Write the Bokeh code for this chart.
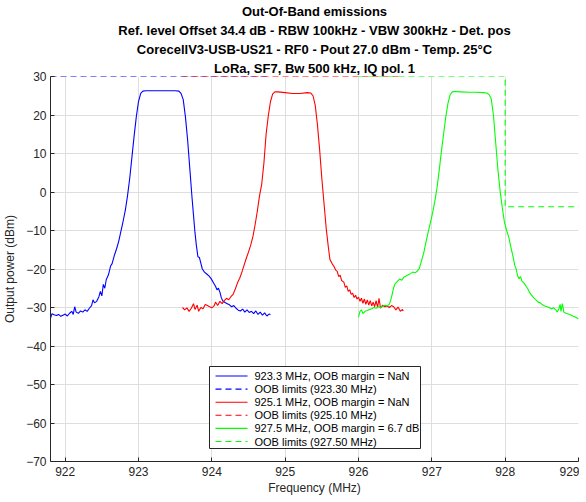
from bokeh.plotting import figure
from bokeh.models import Range1d, FixedTicker, Title, BoxAnnotation, Arrow, Label
from bokeh.embed import file_html
from bokeh.resources import INLINE

# ---------------- data ----------------
blue_f = [921.80, 921.82, 921.85, 921.88, 921.91, 921.94, 921.97, 922.00, 922.03, 922.06,
          922.09, 922.11, 922.13, 922.15, 922.18, 922.21, 922.24, 922.27, 922.30, 922.33,
          922.36, 922.38, 922.40, 922.43, 922.46, 922.48, 922.50, 922.52, 922.54, 922.56,
          922.59, 922.62, 922.64, 922.67, 922.70, 922.73, 922.76, 922.79, 922.82, 922.85,
          922.88, 922.91, 922.94, 922.97, 923.00, 923.03, 923.06, 923.10, 923.20, 923.30,
          923.40, 923.50, 923.55, 923.58, 923.61, 923.64, 923.67, 923.70, 923.73, 923.75,
          923.77, 923.79, 923.81, 923.83, 923.85, 923.87, 923.90, 923.93, 923.96, 923.99,
          924.02, 924.05, 924.07, 924.09, 924.11, 924.13, 924.15, 924.18, 924.21, 924.24,
          924.27, 924.30, 924.33, 924.36, 924.39, 924.42, 924.45, 924.48, 924.51, 924.54,
          924.57, 924.60, 924.63, 924.66, 924.69, 924.72, 924.75, 924.78, 924.80]
blue_p = [-32.8, -31.6, -31.9, -32.1, -31.8, -32.3, -32.0, -31.7, -32.2, -31.5,
          -31.0, -31.8, -29.8, -31.2, -31.5, -30.9, -31.2, -30.6, -31.0, -30.2,
          -29.5, -28.0, -28.8, -28.4, -27.2, -25.8, -27.0, -24.0, -25.0, -22.8,
          -21.5, -19.2, -18.6, -16.5, -14.8, -12.8, -10.2, -7.6, -4.8, -1.0,
          3.5, 9.0, 14.5, 19.5, 23.5, 25.6, 26.2, 26.3, 26.3, 26.3,
          26.3, 26.3, 26.2, 25.6, 24.0, 19.5, 13.5, 6.0, -1.5, -6.0,
          -10.5, -14.0, -16.8, -17.0, -18.5, -20.0, -20.8, -21.3, -21.8, -22.5,
          -23.5, -24.5, -25.4, -25.0, -26.0, -27.5, -28.3, -28.7, -29.0, -29.3,
          -29.8, -29.5, -30.2, -30.7, -30.9, -30.4, -31.2, -30.6, -31.3, -31.0,
          -31.6, -30.9, -31.8, -31.2, -32.0, -31.4, -32.2, -31.7, -31.8]

red_f = [923.60, 923.63, 923.66, 923.69, 923.72, 923.75, 923.77, 923.80, 923.82, 923.85,
         923.88, 923.91, 923.94, 923.97, 924.00, 924.03, 924.05, 924.08, 924.11, 924.14,
         924.17, 924.20, 924.23, 924.26, 924.29, 924.32, 924.35, 924.38, 924.41, 924.44,
         924.47, 924.50, 924.53, 924.56, 924.59, 924.62, 924.65, 924.68, 924.71, 924.74,
         924.77, 924.80, 924.83, 924.86, 924.90, 925.00, 925.10, 925.20, 925.30, 925.35,
         925.38, 925.41, 925.44, 925.47, 925.50, 925.53, 925.56, 925.59, 925.61, 925.64,
         925.67, 925.69, 925.71, 925.73, 925.75, 925.77, 925.80, 925.82, 925.84, 925.86,
         925.88, 925.90, 925.92, 925.94, 925.96, 925.98, 926.00, 926.02, 926.04, 926.06,
         926.08, 926.10, 926.12, 926.14, 926.16, 926.18, 926.20, 926.22, 926.24, 926.26,
         926.28, 926.30, 926.33, 926.36, 926.39, 926.42, 926.45, 926.48, 926.51, 926.54,
         926.57, 926.60, 926.61]
red_p = [-30.0, -30.6, -30.1, -31.0, -30.2, -29.0, -30.5, -29.4, -31.0, -30.0,
         -30.3, -29.2, -29.5, -29.8, -30.1, -29.6, -28.6, -29.5, -28.4, -29.0,
         -28.2, -27.6, -28.0, -27.2, -26.6, -25.2, -23.6, -22.4, -20.8, -19.0,
         -17.2, -15.6, -13.8, -11.6, -8.5, -5.0, -1.0, 2.0, 7.5, 15.0,
         19.8, 23.5, 25.5, 26.0, 26.0, 25.8, 25.6, 25.6, 25.8, 25.7,
         25.0, 22.5, 17.5, 11.0, 3.5, -3.0, -9.5, -14.5, -17.5, -18.6,
         -19.5, -20.3, -20.6, -22.0, -21.6, -23.0, -23.4, -24.8, -24.4, -25.8,
         -25.4, -26.6, -26.3, -27.4, -26.8, -27.8, -27.3, -28.4, -27.6, -28.9,
         -27.8, -29.2, -28.0, -29.4, -28.2, -29.6, -28.6, -29.8, -28.2, -30.0,
         -27.6, -30.2, -29.4, -29.8, -29.6, -30.0, -29.5, -29.8, -30.6, -29.9,
         -31.0, -30.5, -30.9]

green_f = [926.00, 926.02, 926.04, 926.06, 926.09, 926.12, 926.15, 926.18, 926.21, 926.24,
           926.27, 926.30, 926.33, 926.36, 926.39, 926.42, 926.44, 926.46, 926.48, 926.50,
           926.53, 926.56, 926.59, 926.62, 926.65, 926.68, 926.71, 926.74, 926.77, 926.80,
           926.83, 926.86, 926.89, 926.92, 926.95, 926.98, 927.01, 927.04, 927.07, 927.10,
           927.13, 927.16, 927.19, 927.22, 927.25, 927.28, 927.30, 927.40, 927.50, 927.60,
           927.70, 927.75, 927.78, 927.81, 927.84, 927.87, 927.90, 927.93, 927.96, 927.99,
           928.02, 928.05, 928.08, 928.11, 928.13, 928.15, 928.17, 928.19, 928.21, 928.23,
           928.25, 928.27, 928.29, 928.31, 928.33, 928.36, 928.39, 928.42, 928.45, 928.48,
           928.51, 928.54, 928.57, 928.60, 928.63, 928.66, 928.69, 928.71, 928.73, 928.75,
           928.76, 928.78, 928.80, 928.83, 928.86, 928.89, 928.92, 928.95, 928.98, 929.00]
green_p = [-32.5, -31.0, -30.6, -31.6, -31.0, -30.8, -30.5, -30.3, -30.0, -30.2,
           -29.8, -30.0, -29.7, -29.4, -29.6, -29.2, -28.0, -26.5, -24.8, -23.8,
           -23.2, -22.6, -22.9, -22.1, -21.8, -21.5, -21.2, -20.8, -21.0, -20.6,
           -19.8, -17.8, -15.8, -13.0, -10.4, -8.0, -5.5, -2.5, 1.0, 5.5,
           10.5, 15.0, 19.5, 23.0, 25.3, 26.0, 26.1, 26.0, 25.9, 25.9,
           25.8, 25.7, 25.3, 24.2, 20.0, 13.0, 6.0, 0.5, -4.0, -7.8,
           -10.0, -11.8, -14.5, -17.0, -19.0, -20.0, -21.8, -22.5, -22.0, -23.2,
           -23.5, -24.0, -24.6, -25.2, -26.0, -26.8, -27.5, -28.0, -28.6, -28.8,
           -29.3, -29.6, -29.8, -30.0, -30.3, -30.1, -30.6, -31.2, -30.4, -29.2,
           -31.0, -29.0, -31.2, -31.5, -31.7, -31.9, -32.2, -32.4, -32.7, -33.0]

blue_lim_f = [921.8, 924.8]
blue_lim_p = [30.0, 30.0]
red_lim_f = [923.6, 926.6]
red_lim_p = [30.0, 30.0]
green_lim_f = [926.0, 928.0, 928.0, 929.0]
green_lim_p = [30.0, 30.0, -3.85, -3.85]

x_ticks = [922, 923, 924, 925, 926, 927, 928, 929]
y_ticks = [-70, -60, -50, -40, -30, -20, -10, 0, 10, 20, 30]

labels = ["923.3 MHz, OOB margin = NaN", "OOB limits (923.30 MHz)",
          "925.1 MHz, OOB margin = NaN", "OOB limits (925.10 MHz)",
          "927.5 MHz, OOB margin = 6.7 dB", "OOB limits (927.50 MHz)"]

title_lines = ["Out-Of-Band emissions",
               "Ref. level Offset 34.4 dB - RBW 100kHz - VBW 300kHz - Det. pos",
               "CorecellV3-USB-US21 - RF0 - Pout 27.0 dBm - Temp. 25\u00b0C",
               "LoRa, SF7, Bw 500 kHz, IQ pol. 1"]

colors = ["#0000ff", "#ff0000", "#00ff00"]

# ---------------- figure ----------------
FONT = "Liberation Sans"
AX = "#262626"
DASH = "6 4"

p = figure(frame_width=528, frame_height=385, output_backend="svg", toolbar_location=None,
           x_range=Range1d(921.8, 929.0), y_range=Range1d(-70, 30),
           min_border_right=1, min_border_left=10, min_border_top=1, min_border_bottom=1)


def style_title(t, text):
    t.text = text
    t.align = "center"
    t.text_font = FONT
    t.text_font_size = "13px"
    t.text_font_style = "bold"
    t.text_color = "black"
    t.standoff = 2
    t.offset = 0
    t.text_line_height = 1.0


# p.title is the outermost line; added titles stack from the frame outward
style_title(p.title, title_lines[0])
for line in reversed(title_lines[1:]):
    t = Title()
    style_title(t, line)
    p.add_layout(t, "above")

p.background_fill_color = "white"
p.border_fill_color = "white"
p.outline_line_color = None

for ax in (p.xaxis, p.yaxis):
    ax.axis_line_color = AX
    ax.major_tick_line_color = AX
    ax.major_tick_in = 4
    ax.major_tick_out = 0
    ax.minor_tick_line_color = None
    ax.major_label_text_font = FONT
    ax.major_label_text_font_size = "12px"
    ax.major_label_text_color = AX
    ax.axis_label_text_font = FONT
    ax.axis_label_text_font_size = "12px"
    ax.axis_label_text_font_style = "normal"
    ax.axis_label_text_color = AX

p.xaxis.ticker = FixedTicker(ticks=x_ticks)
p.yaxis.ticker = FixedTicker(ticks=y_ticks)
p.xaxis.axis_label = "Frequency (MHz)"
p.yaxis.axis_label = "Output power (dBm)"
p.xaxis.major_label_standoff = 5
p.xaxis.axis_label_standoff = 2
p.yaxis.major_label_standoff = 4
p.yaxis.axis_label_standoff = 6

p.xgrid.ticker = FixedTicker(ticks=x_ticks)
p.ygrid.ticker = FixedTicker(ticks=y_ticks)
p.grid.grid_line_color = "#dedede"
p.grid.grid_line_width = 1

p.line(blue_f, blue_p, line_color=colors[0], line_width=1.1)
p.line(blue_lim_f, blue_lim_p, line_color=colors[0], line_width=1.1, line_dash=DASH)
p.line(red_f, red_p, line_color=colors[1], line_width=1.1)
p.line(red_lim_f, red_lim_p, line_color=colors[1], line_width=1.1, line_dash=DASH)
p.line(green_f, green_p, line_color=colors[2], line_width=1.1)
p.line(green_lim_f, green_lim_p, line_color=colors[2], line_width=1.1, line_dash=DASH)

# ---------------- legend (drawn as annotations, frame-relative pixels) ----------------
LEG_LEFT, LEG_RIGHT, LEG_BOTTOM, LEG_TOP = 159, 370, 13, 95
ROW0, ROW_STEP = 85.5, 13.1
SAMPLE_X0, SAMPLE_X1, TEXT_X = 165, 197, 204

p.add_layout(BoxAnnotation(left=LEG_LEFT, right=LEG_RIGHT, bottom=LEG_BOTTOM, top=LEG_TOP,
                           left_units="screen", right_units="screen",
                           bottom_units="screen", top_units="screen",
                           fill_color="white", fill_alpha=1.0,
                           line_color=AX, line_width=1, line_alpha=1.0, level="overlay"))

for i, lab in enumerate(labels):
    yy = ROW0 - i * ROW_STEP
    col = colors[i // 2]
    dash = "solid" if i % 2 == 0 else DASH
    p.add_layout(Arrow(x_start=SAMPLE_X0, y_start=yy, x_end=SAMPLE_X1, y_end=yy,
                       start_units="screen", end_units="screen", start=None, end=None,
                       line_color=col, line_width=1.1, line_dash=dash, level="overlay"))
    p.add_layout(Label(x=TEXT_X, y=yy, x_units="screen", y_units="screen", text=lab,
                       text_font=FONT, text_font_size="11px", text_color="black",
                       text_baseline="middle", text_align="left", level="overlay"))

open("out.html", "w").write(file_html(p, INLINE))
